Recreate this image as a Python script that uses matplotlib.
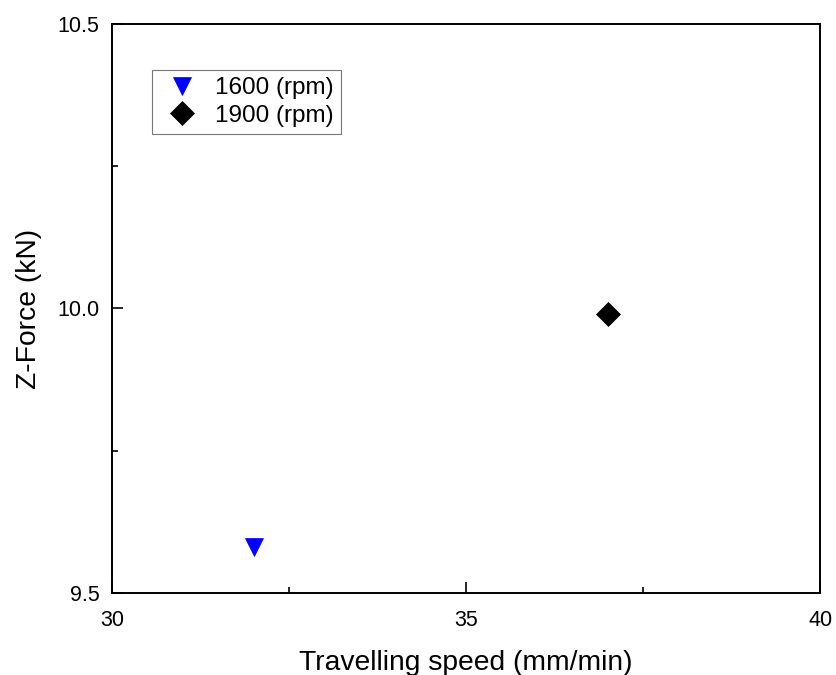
import matplotlib
matplotlib.use('Agg')
import matplotlib.pyplot as plt
from matplotlib.ticker import MultipleLocator

plt.rcParams['font.family'] = ['Liberation Sans', 'DejaVu Sans']

# data
labels = ['1600 (rpm)', '1900 (rpm)']
speed = [32.0, 37.0]
zforce = [9.58, 9.99]
markers = ['v', 'D']
colors = ['#0000ff', 'black']
sizes = [13, 12]
xticks = [30, 35, 40]
yticks = [9.5, 10.0, 10.5]
yticklabels = ['9.5', '10.0', '10.5']

fig = plt.figure(figsize=(8.36, 6.75), dpi=100)
ax = fig.add_axes([0.134, 0.1215, 0.847, 0.843])

for x, y, m, c, s, lab in zip(speed, zforce, markers, colors, sizes, labels):
    ax.plot(x, y, linestyle='none', marker=m, color=c, markersize=s,
            markeredgewidth=0.5, label=lab)

ax.set_xlim(30, 40)
ax.set_ylim(9.5, 10.5)
ax.set_xticks(xticks)
ax.set_xticklabels([str(t) for t in xticks])
ax.set_yticks(yticks)
ax.set_yticklabels(yticklabels)
ax.xaxis.set_minor_locator(MultipleLocator(2.5))
ax.yaxis.set_minor_locator(MultipleLocator(0.25))

ax.tick_params(which='both', direction='in', top=False, right=False,
               labelsize=15.5, width=1.2)
ax.tick_params(which='major', length=8)
ax.tick_params(axis='x', which='major', pad=12)
ax.tick_params(axis='y', which='major', pad=9)
ax.tick_params(which='minor', length=4.5)
for sp in ax.spines.values():
    sp.set_linewidth(1.4)

ax.set_xlabel('Travelling speed (mm/min)', fontsize=20.3, labelpad=14)
ax.set_ylabel('Z-Force (kN)', fontsize=20.3, labelpad=11)

leg = ax.legend(loc='upper left', bbox_to_anchor=(0.0565, 0.919), fontsize=17.5,
                frameon=True, fancybox=False, edgecolor='#555555',
                handletextpad=0.4, borderpad=0.3, labelspacing=0.22,
                handlelength=1.9, borderaxespad=0)
leg.get_frame().set_linewidth(0.8)

fig.savefig('out.png', dpi=100)
